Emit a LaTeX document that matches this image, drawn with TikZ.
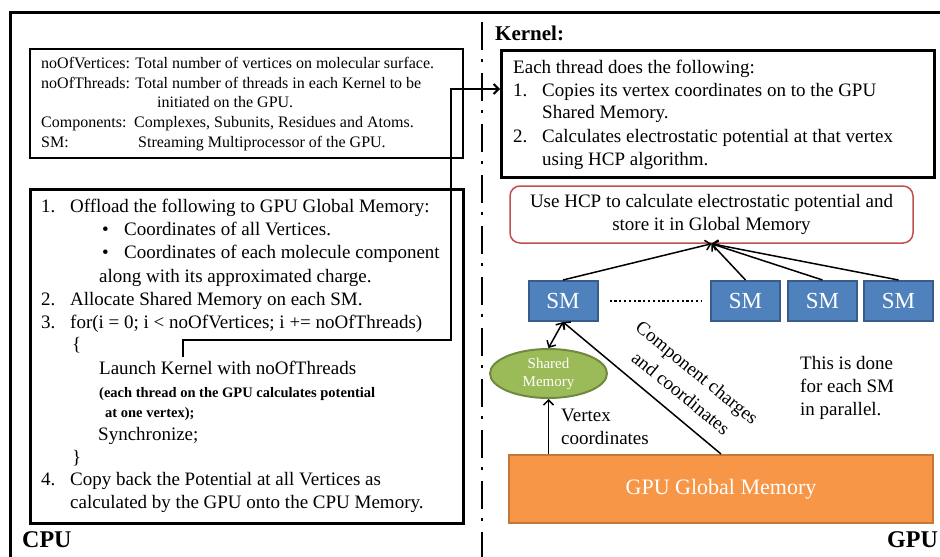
\documentclass[tikz,border=0pt]{standalone}
\usepackage{fontspec}
\setmainfont{Liberation Serif}
\usetikzlibrary{arrows.meta,shapes.geometric,calc}
\definecolor{smfill}{HTML}{4F81BD}
\definecolor{smdraw}{HTML}{385D8A}
\definecolor{shfill}{HTML}{9BBB59}
\definecolor{shdraw}{HTML}{71893F}
\definecolor{gmfill}{HTML}{F79646}
\definecolor{gmdraw}{HTML}{C5773A}
\definecolor{hcpdraw}{HTML}{C0504D}
\begin{document}
\begin{tikzpicture}[x=1pt,y=-1pt,
  box/.style={draw, line width=2pt, inner sep=0, anchor=north west},
  t/.style={anchor=base west, inner sep=0, font=\fontsize{19}{22}\selectfont},
  td/.style={anchor=base west, inner sep=0, font=\fontsize{16}{18}\selectfont},
  ts/.style={anchor=base west, inner sep=0, font=\bfseries\fontsize{14.5}{16}\selectfont},
  lab/.style={anchor=base west, inner sep=0, font=\bfseries\fontsize{24}{28}\selectfont},
  smbox/.style={draw=smdraw, fill=smfill, line width=2pt, minimum width=69pt, minimum height=40pt, inner sep=0, text=white, font=\fontsize{23}{26}\selectfont},
  tip/.tip={Straight Barb[length=5pt,width=10pt]},
  arr/.style={-tip, line width=1.5pt},
]
\useasboundingbox (0,0) rectangle (940,557);
% outer frame and separator
\draw[line width=3pt] (10,557) -- (10,12) -- (940,12);
\draw[line width=2.5pt, dash pattern=on 28pt off 9pt on 3pt off 11pt] (482,22) -- (482,557);

% CPU side boxes
\node[box, minimum width=433pt, minimum height=109pt] (defs) at (29,48) {};
\node[box, line width=2.5pt, minimum width=433pt, minimum height=334pt] (cpu) at (29,188) {};

\node[td] (d1) at (41,68) {noOfVertices: Total number of vertices on molecular surface.};
\node[td] (d2) at (41,88) {noOfThreads: Total number of threads in each Kernel to be};
\node[td] (d3) at (157,107) {initiated on the GPU.};
\node[td] (d4a) at (41,127) {Components:};
\node[td] (d4b) at (134,127) {Complexes, Subunits, Residues and Atoms.};
\node[td] (d5a) at (41,147) {SM:};
\node[td] (d5b) at (138,147) {Streaming Multiprocessor of the GPU.};

\node[t] (c1n) at (41,212) {1.};
\node[t] (c1) at (70,212) {Offload the following to GPU Global Memory:};
\node[t] (c2b) at (102,235) {•};
\node[t] (c2) at (124,235) {Coordinates of all Vertices.};
\node[t] (c3b) at (102,258) {•};
\node[t] (c3) at (124,258) {Coordinates of each molecule component};
\node[t] (c4) at (99,282) {along with its approximated charge.};
\node[t] (c5n) at (41,305) {2.};
\node[t] (c5) at (70,305) {Allocate Shared Memory on each SM.};
\node[t] (c6n) at (41,328) {3.};
\node[t] (c6) at (70,328) {for(i = 0; i < noOfVertices; i += noOfThreads)};
\node[t] (c7) at (72,350) {\{};
\node[t] (c8) at (99,374) {Launch Kernel with noOfThreads};
\node[ts] (c9) at (99,397) {(each thread on the GPU calculates potential};
\node[ts] (c10) at (105,417) {at one vertex);};
\node[t] (c11) at (98,440) {Synchronize;};
\node[t] (c12) at (72,463) {\}};
\node[t] (c13n) at (41,485) {4.};
\node[t] (c13) at (70,485) {Copy back the Potential at all Vertices as};
\node[t] (c14) at (70,508) {calculated by the GPU onto the CPU Memory.};

\node[lab] (cpulab) at (22,547) {CPU};
\node[lab] (gpulab) at (887,547) {GPU};
\node[anchor=base west, inner sep=0, font=\bfseries\fontsize{21}{24}\selectfont] (kl) at (495,40) {Kernel:};

% Kernel box
\node[box, line width=2.5pt, minimum width=433pt, minimum height=127pt] (kern) at (500,49) {};
\node[t] (k0) at (513,73) {Each thread does the following:};
\node[t] (k1n) at (513,96) {1.};
\node[t] (k1) at (542,96) {Copies its vertex coordinates on to the GPU};
\node[t] (k2) at (542,118) {Shared Memory.};
\node[t] (k3n) at (513,142) {2.};
\node[t] (k3) at (542,142) {Calculates electrostatic potential at that vertex};
\node[t] (k4) at (542,165) {using HCP algorithm.};

% launch connector
\coordinate (lk) at (183,357);
\coordinate (lb) at (451,340);
\coordinate (lt) at (451,89);
\draw[line width=2pt, -tip] (lk) -- (lk |- lb) -- (lb) -- (lt) -- (kern.west |- lt);

% GPU side
\node[draw=hcpdraw, line width=1.5pt, rounded corners=10pt, minimum width=403pt, minimum height=57pt, align=center, inner sep=0, font=\fontsize{19}{22.5}\selectfont] (hcp) at (711.5,214.5) {Use HCP to calculate electrostatic potential and\\store it in Global Memory};

\node[smbox] (sm1) at (563,301) {SM};
\node[smbox] (sm2) at (745.5,301) {SM};
\node[smbox] (sm3) at (822.5,301) {SM};
\node[smbox] (sm4) at (898.5,301) {SM};
\draw[line width=2.5pt, dash pattern=on 2.2pt off 2.6pt] ([xshift=11pt]sm1.east) -- ([xshift=-9pt]sm2.west);

\node[ellipse, draw=shdraw, fill=shfill, line width=2pt, minimum width=117pt, minimum height=49pt, inner sep=0, align=center, text=white, font=\fontsize{15}{18}\selectfont] (shm) at (548.5,373.5) {Shared\\Memory};

\node[draw=gmdraw, fill=gmfill, line width=2pt, minimum width=424pt, minimum height=68pt, inner sep=0, text=white, font=\fontsize{22}{26}\selectfont] (glob) at (721,489) {GPU Global Memory};

\foreach \s in {sm1,sm2,sm3,sm4} \draw[arr] (\s.north) -- (hcp.south);
\draw[arr, tip-tip] (sm1.south) -- (shm.north);
\draw[arr] (shm.south |- glob.north) -- (shm.south);
\draw[arr] (glob.north) -- (sm1.south);

\node[t] (v1) at (561,421) {Vertex};
\node[t] (v2) at (561,444) {coordinates};
\node[rotate=-39, inner sep=0, font=\fontsize{19}{22}\selectfont] (cc1) at (696,374) {Component charges};
\node[rotate=-39, inner sep=0, font=\fontsize{19}{22}\selectfont] (cc2) at (681,393) {and coordinates};
\node[t] (p1) at (800,369) {This is done};
\node[t] (p2) at (800,392) {for each SM};
\node[t] (p3) at (800,415) {in parallel.};
\end{tikzpicture}
\end{document}
